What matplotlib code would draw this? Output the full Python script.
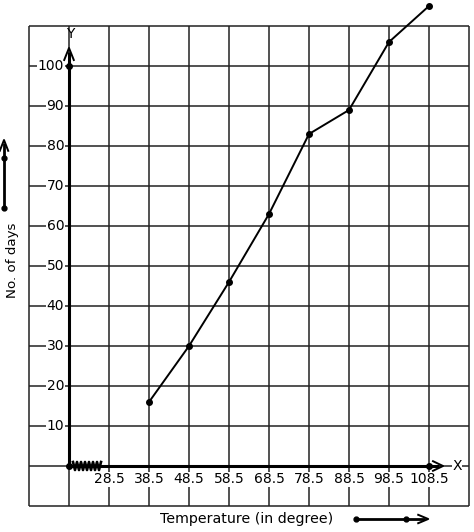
import matplotlib
matplotlib.use("Agg")
import matplotlib.pyplot as plt
import numpy as np

plt.rcParams.update({"font.family": "DejaVu Sans"})

# ogive data: upper class limits vs cumulative no. of days
temps = [38.5, 48.5, 58.5, 68.5, 78.5, 88.5, 98.5, 108.5]
days = [16, 30, 46, 63, 83, 89, 106, 115]
xtick_labels = ["28.5", "38.5", "48.5", "58.5", "68.5", "78.5", "88.5", "98.5", "108.5"]
xtick_vals = [28.5, 38.5, 48.5, 58.5, 68.5, 78.5, 88.5, 98.5, 108.5]
ytick_vals = [10, 20, 30, 40, 50, 60, 70, 80, 90, 100]

# 1 unit = 4 px, origin (18.5, 0) sits at pixel (69, 466)
fig = plt.figure(figsize=(4.74, 5.32), dpi=100)
ax = fig.add_axes([0, 0, 1, 1])
ax.set_xlim(18.5 - 69 / 4, 18.5 + (474 - 69) / 4)
ax.set_ylim((466 - 532) / 4, 466 / 4)
ax.axis("off")

x0, x1 = 8.5, 118.5
y0, y1 = -10, 110
gx = np.arange(x0, x1 + 1, 10)
gy = np.arange(y0, y1 + 1, 10)
ax.vlines(gx, y0, y1, color="#222222", lw=1.1, zorder=1)
ax.hlines(gy, x0, x1, color="#222222", lw=1.1, zorder=1)

# axes with arrow heads
ax.plot([18.5, 18.5], [0, 103.5], color="black", lw=2.2, zorder=3, solid_capstyle="butt")
ax.plot([18.5, 111], [0, 0], color="black", lw=2.2, zorder=3, solid_capstyle="butt")
ax.plot([17.3, 18.5, 19.7], [101.5, 104.5, 101.5], color="black", lw=1.4, zorder=3)
ax.plot([109.5, 112, 109.5], [1.2, 0, -1.2], color="black", lw=1.4, zorder=3)

# break (zigzag) on x axis
zx = np.linspace(19.5, 26.5, 15)
zy = np.where(np.arange(15) % 2 == 0, 1.0, -1.0)
ax.plot(zx, zy, color="black", lw=1.9, zorder=4)

ax.plot([18.5, 18.5, 108.5], [0, 100, 0], "o", color="black", ms=4, zorder=5)

ax.plot(temps, days, color="black", lw=1.4, marker="o", ms=4, zorder=5)

box = dict(facecolor="white", edgecolor="none", pad=0.5)
for v in ytick_vals:
    ax.text(17.3, v, str(v), ha="right", va="center", fontsize=10, bbox=box, zorder=2)
for v, lab in zip(xtick_vals, xtick_labels):
    ax.text(v, -3.3, lab, ha="center", va="center", fontsize=10, bbox=box, zorder=2)

ax.text(18.8, 107.9, "Y", ha="center", va="center", fontsize=10, zorder=2)
ax.text(115.5, 0, "X", ha="center", va="center", fontsize=10, bbox=box, zorder=2)

ax.text(63, -13.3, "Temperature (in degree)", ha="center", va="center", fontsize=10.2)
ax.text(4.3, 51.5, "No. of days", ha="center", va="center", rotation=90, fontsize=9.6)

# small direction markers beside the axis titles
ax.plot([2.25, 2.25], [64.5, 80.8], color="black", lw=2, zorder=3, solid_capstyle="butt")
ax.plot([1.2, 2.25, 3.3], [78.8, 81.5, 78.8], color="black", lw=1.4)
ax.plot([2.25, 2.25], [64.5, 77], "o", color="black", ms=3.5)
ax.plot([90.25, 107.5], [-13.25, -13.25], color="black", lw=2, solid_capstyle="butt")
ax.plot([105.8, 108.3, 105.8], [-12.2, -13.25, -14.3], color="black", lw=1.4)
ax.plot([90.25, 102.75], [-13.25, -13.25], "o", color="black", ms=3.5)

fig.savefig("out.png", dpi=100)
